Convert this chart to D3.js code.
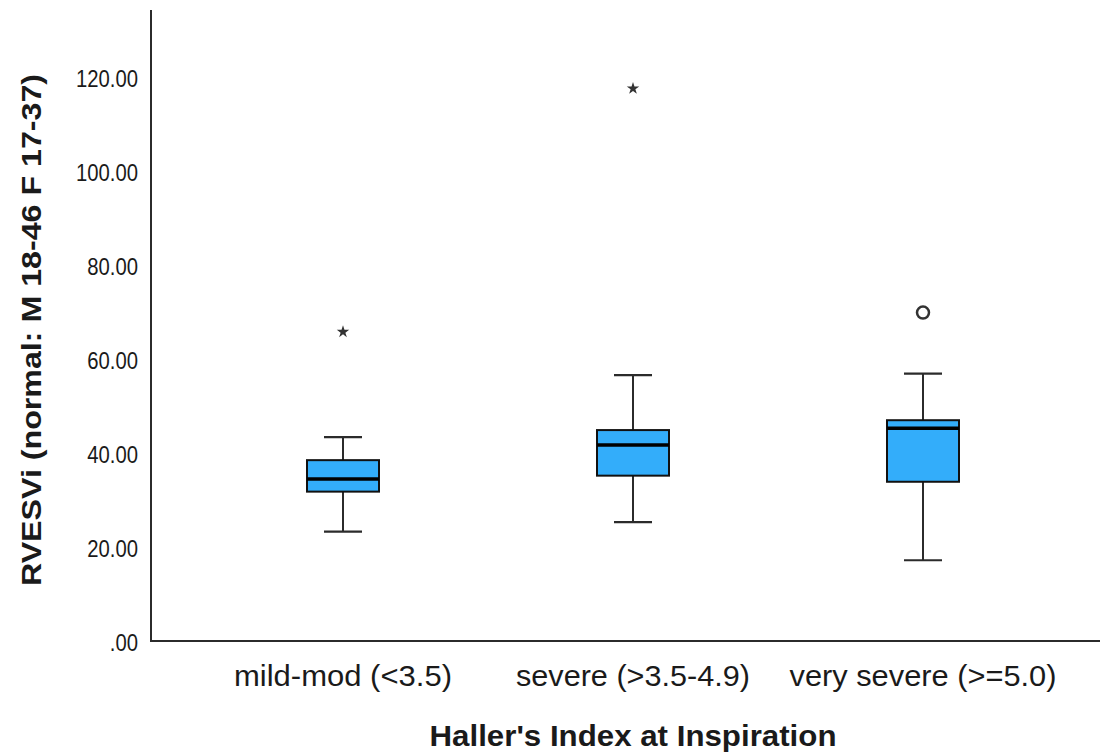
<!DOCTYPE html>
<html>
<head>
<meta charset="utf-8">
<script src="https://cdn.jsdelivr.net/npm/d3@7"></script>
<style>
  html, body { margin: 0; padding: 0; background: #fff; }
  text { font-family: "Liberation Sans", Arial, sans-serif; fill: #1a1a1a; }
</style>
</head>
<body>
<svg id="chart" width="1109" height="756"></svg>
<script>
// ---- data ----
const categories = ["mild-mod (<3.5)", "severe (>3.5-4.9)", "very severe (>=5.0)"];
const lowerWhisker = [23.5, 25.5, 17.4];
const q1 = [32.0, 35.4, 34.1];
const median = [34.7, 41.9, 45.5];
const q3 = [38.7, 45.1, 47.2];
const upperWhisker = [43.6, 56.8, 57.1];
const extremes = [{cat: 0, v: 66.0}, {cat: 1, v: 117.8}];   // asterisks
const outliers = [{cat: 2, v: 70.1}];                        // open circles
const yTicks = [0, 20, 40, 60, 80, 100, 120];
const yTitle = "RVESVi (normal: M 18-46 F 17-37)";
const xTitle = "Haller's Index at Inspiration";

const svg = d3.select("#chart");
const x = d3.scaleBand().domain(categories.map((d, i) => i)).range([198, 1068]).padding(0);
const y = d3.scaleLinear().domain([0, 134.5]).range([642, 10]);

const boxW = 72, capW = 38;
const cx = i => x(i) + x.bandwidth() / 2;
const stroke = "#2b2b2b";

// axes (lines only, no ticks)
svg.append("line").attr("x1", 151).attr("x2", 151).attr("y1", y(134.5)).attr("y2", 641)
  .attr("stroke", stroke).attr("stroke-width", 2);
svg.append("line").attr("x1", 150).attr("x2", 1100).attr("y1", 641).attr("y2", 641)
  .attr("stroke", stroke).attr("stroke-width", 2);

// y tick labels
const fmt = v => v === 0 ? ".00" : d3.format(".2f")(v);
svg.append("g").selectAll("text").data(yTicks).join("text")
  .attr("x", 138).attr("y", d => y(d) + 8.5)
  .attr("text-anchor", "end")
  .attr("font-size", 24)
  .text(fmt)
  .each(function () {
    const L = this.getComputedTextLength();
    d3.select(this).attr("textLength", L * 0.845).attr("lengthAdjust", "spacingAndGlyphs");
  });

// whiskers
const idx = categories.map((d, i) => i);
const g = svg.append("g");
g.selectAll(".wl").data(idx).join("line")
  .attr("x1", cx).attr("x2", cx)
  .attr("y1", i => y(upperWhisker[i])).attr("y2", i => y(q3[i]))
  .attr("stroke", stroke).attr("stroke-width", 2);
g.selectAll(".wl2").data(idx).join("line")
  .attr("x1", cx).attr("x2", cx)
  .attr("y1", i => y(q1[i])).attr("y2", i => y(lowerWhisker[i]))
  .attr("stroke", stroke).attr("stroke-width", 2);
g.selectAll(".capU").data(idx).join("line")
  .attr("x1", i => cx(i) - capW / 2).attr("x2", i => cx(i) + capW / 2)
  .attr("y1", i => y(upperWhisker[i])).attr("y2", i => y(upperWhisker[i]))
  .attr("stroke", stroke).attr("stroke-width", 2.2);
g.selectAll(".capL").data(idx).join("line")
  .attr("x1", i => cx(i) - capW / 2).attr("x2", i => cx(i) + capW / 2)
  .attr("y1", i => y(lowerWhisker[i])).attr("y2", i => y(lowerWhisker[i]))
  .attr("stroke", stroke).attr("stroke-width", 2.2);

// boxes
g.selectAll("rect").data(idx).join("rect")
  .attr("x", i => cx(i) - boxW / 2).attr("width", boxW)
  .attr("y", i => y(q3[i])).attr("height", i => y(q1[i]) - y(q3[i]))
  .attr("fill", "#33adfa").attr("stroke", "#111").attr("stroke-width", 2);
g.selectAll(".med").data(idx).join("line")
  .attr("x1", i => cx(i) - boxW / 2).attr("x2", i => cx(i) + boxW / 2)
  .attr("y1", i => y(median[i])).attr("y2", i => y(median[i]))
  .attr("stroke", "#000").attr("stroke-width", 3.5);

// extremes (stars)
g.selectAll(".star").data(extremes).join("path")
  .attr("transform", d => `translate(${cx(d.cat)},${y(d.v)})`)
  .attr("d", d3.symbol(d3.symbolStar, 48)())
  .attr("fill", "#333");

// outliers (open circles)
g.selectAll(".out").data(outliers).join("circle")
  .attr("cx", d => cx(d.cat)).attr("cy", d => y(d.v)).attr("r", 6)
  .attr("fill", "none").attr("stroke", "#333").attr("stroke-width", 2.5);

// x category labels
const xWidths = [218, 234, 267];
svg.append("g").selectAll("text").data(idx).join("text")
  .attr("x", cx).attr("y", 686)
  .attr("text-anchor", "middle").attr("font-size", 29)
  .attr("textLength", i => xWidths[i]).attr("lengthAdjust", "spacingAndGlyphs")
  .text(i => categories[i]);

// axis titles
svg.append("text")
  .attr("x", 633).attr("y", 746)
  .attr("text-anchor", "middle").attr("font-size", 29).attr("font-weight", "bold")
  .attr("textLength", 407).attr("lengthAdjust", "spacingAndGlyphs")
  .text(xTitle);

svg.append("text")
  .attr("transform", "translate(41,330) rotate(-90)")
  .attr("text-anchor", "middle").attr("font-size", 28).attr("font-weight", "bold")
  .attr("textLength", 512).attr("lengthAdjust", "spacingAndGlyphs")
  .text(yTitle);
</script>
</body>
</html>
